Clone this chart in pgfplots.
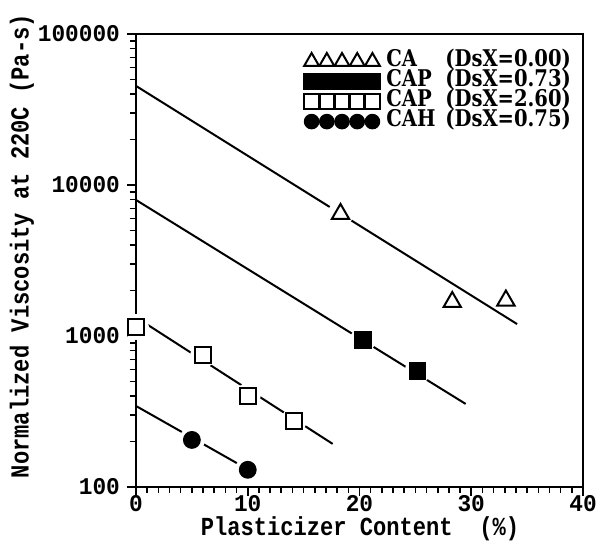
\documentclass[border=0pt]{standalone}
\usepackage{fontspec}
\usepackage{pgfplots}
\pgfplotsset{compat=1.18}
\newfontfamily\labfont{Liberation Mono}[FakeStretch=0.85]
\newfontfamily\tickfont{Liberation Mono}[FakeStretch=0.95]
\newfontfamily\legfont{DejaVu Serif}[FakeStretch=0.85]
\pgfplotsset{
  rowlegend/.style={legend image code/.code={\draw[##1, mark size=#1] plot coordinates {(0pt,0pt) (7.6pt,0pt) (15.2pt,0pt) (22.8pt,0pt) (30.4pt,0pt)};}}
}
\newcommand{\legtext}[2]{\hspace{3pt}\makebox[29.5pt][l]{#1}#2}
\begin{document}
\begin{tikzpicture}
\begin{axis}[
  scale only axis, width=223.5pt, height=226.5pt,
  ymode=log, xmin=0, xmax=40, ymin=100, ymax=100000,
  xtick={0,10,20,30,40}, xticklabels={0,10,20,30,40},
  minor x tick num=9,
  ytick={100,1000,10000,100000}, yticklabels={100,1000,10000,100000},
  tick align=outside, xtick pos=left, ytick pos=left,
  major tick length=4.5pt, minor tick length=3pt,
  every tick/.style={black, line width=0.8pt},
  axis line style={line width=1pt},
  ticklabel style={font=\tickfont\bfseries\fontsize{12}{12}\selectfont},
  xticklabel style={yshift=4pt},
  xlabel={Plasticizer Content~~(\%)},
  ylabel={Normalized Viscosity at 220C (Pa-s)},
  every axis x label/.style={at={(axis description cs:0.501,-0.093)}, anchor=center,
    font=\labfont\bfseries\fontsize{13}{13}\selectfont},
  every axis y label/.style={at={(axis description cs:-0.255,0.532)}, anchor=center, rotate=90,
    font=\labfont\bfseries\fontsize{13}{13}\selectfont},
  axis on top,
  legend cell align=left,
  legend style={draw=none, fill=none, at={(axis description cs:0.375,0.962)}, anchor=north west,
    font=\legfont\bfseries\fontsize{11.5}{11.5}\selectfont, row sep=0pt, inner sep=0pt,
    nodes={text height=7.2pt, text depth=2.5pt, inner sep=0.15pt}},
]
\coordinate (bl) at (rel axis cs:0,0);
\coordinate (tr) at (rel axis cs:1,1);
% fitted lines
\addplot[line width=1pt, forget plot] coordinates {(0,45300) (34.1,1200)};
\addplot[line width=1pt, forget plot] coordinates {(0,7960) (29.5,355)};
\addplot[line width=1pt, forget plot] coordinates {(0,1330) (17.6,193)};
\addplot[line width=1pt, forget plot] coordinates {(0,344) (10,131)};
% white halos around markers
\addplot[only marks, mark=*, mark size=6.25pt, mark options={fill=white, draw=white}, forget plot]
  coordinates {(18.3,6430) (28.3,1680) (33.1,1718) (20.3,942) (25.2,586)
               (0,1148) (6,748) (10,401) (14.1,274) (5,205) (10,130)};
% markers
\addplot[only marks, mark=triangle, mark size=5pt, mark options={line width=1pt, fill=white}, rowlegend=4.3pt]
  coordinates {(18.3,6430) (28.3,1680) (33.1,1718)};
\addlegendentry{\legtext{CA}{(DsX=0.00)}}
\addplot[only marks, mark=square*, mark size=4pt, mark options={line width=0.8pt, fill=black}, rowlegend=3.8pt]
  coordinates {(20.3,942) (25.2,586)};
\addlegendentry{\legtext{CAP}{(DsX=0.73)}}
\addplot[only marks, mark=square*, mark size=4pt, mark options={line width=1pt, fill=white}, rowlegend=3.6pt]
  coordinates {(0,1148) (6,748) (10,401) (14.1,274)};
\addlegendentry{\legtext{CAP}{(DsX=2.60)}}
\addplot[only marks, mark=*, mark size=4.15pt, mark options={line width=0.6pt, fill=black}, rowlegend=3.6pt]
  coordinates {(5,205) (10,130)};
\addlegendentry{\legtext{CAH}{(DsX=0.75)}}
\end{axis}
\pgfresetboundingbox
\path ([shift={(-68pt,-27pt)}]bl) rectangle ([shift={(8pt,17pt)}]tr);
\end{tikzpicture}
\end{document}
